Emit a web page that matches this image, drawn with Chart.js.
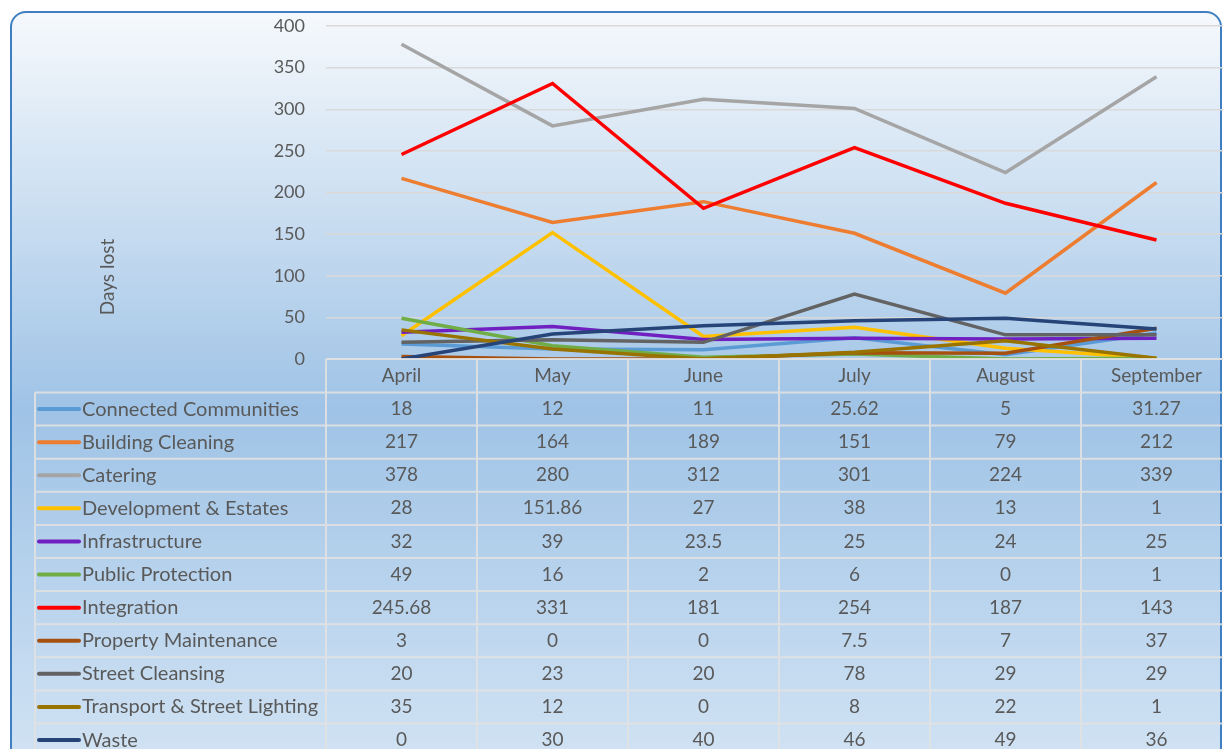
<!DOCTYPE html>
<html>
<head>
<meta charset="utf-8">
<script src="https://cdn.jsdelivr.net/npm/chart.js@4.4.1/dist/chart.umd.min.js"></script>
<style>
  html, body { margin: 0; padding: 0; background: #fff; overflow: hidden; }
  #wrap { position: absolute; left: 0; top: 0; width: 1240px; height: 775px; }
</style>
</head>
<body>
<div id="wrap"><canvas id="myChart" width="1240" height="775"></canvas></div>
<script>
// 월별 카테고리
const MONTHS = ["April", "May", "June", "July", "August", "September"];

// 부서별 손실 일수
const CONNECTED_COMMUNITIES = [18, 12, 11, 25.62, 5, 31.27];
const BUILDING_CLEANING = [217, 164, 189, 151, 79, 212];
const CATERING = [378, 280, 312, 301, 224, 339];
const DEVELOPMENT_ESTATES = [28, 151.86, 27, 38, 13, 1];
const INFRASTRUCTURE = [32, 39, 23.5, 25, 24, 25];
const PUBLIC_PROTECTION = [49, 16, 2, 6, 0, 1];
const INTEGRATION = [245.68, 331, 181, 254, 187, 143];
const PROPERTY_MAINTENANCE = [3, 0, 0, 7.5, 7, 37];
const STREET_CLEANSING = [20, 23, 20, 78, 29, 29];
const TRANSPORT_LIGHTING = [35, 12, 0, 8, 22, 1];
const WASTE = [0, 30, 40, 46, 49, 36];

// y축 눈금
const Y_TICKS = [0, 50, 100, 150, 200, 250, 300, 350, 400];

const FONT = "Lato, 'Open Sans', sans-serif";
const TEXT_COLOR = "#595959";

const series = [
  { label: "Connected Communities", data: CONNECTED_COMMUNITIES, color: "#5B9BD5" },
  { label: "Building Cleaning", data: BUILDING_CLEANING, color: "#ED7D31" },
  { label: "Catering", data: CATERING, color: "#A5A5A5" },
  { label: "Development & Estates", data: DEVELOPMENT_ESTATES, color: "#FFC000" },
  { label: "Infrastructure", data: INFRASTRUCTURE, color: "#7020C0" },
  { label: "Public Protection", data: PUBLIC_PROTECTION, color: "#70AD47" },
  { label: "Integration", data: INTEGRATION, color: "#FF0000" },
  { label: "Property Maintenance", data: PROPERTY_MAINTENANCE, color: "#A5500F" },
  { label: "Street Cleansing", data: STREET_CLEANSING, color: "#636363" },
  { label: "Transport & Street Lighting", data: TRANSPORT_LIGHTING, color: "#997300" },
  { label: "Waste", data: WASTE, color: "#264478" },
];

// 배경 프레임 (둥근 테두리 + 그라데이션)
const framePlugin = {
  id: "frame",
  beforeDraw(chart) {
    const { ctx } = chart;
    const x = 11, y = 12, w = 1210, h = 800, r = 15;
    ctx.save();
    ctx.fillStyle = "#ffffff";
    ctx.fillRect(0, 0, chart.width, chart.height);
    const g = ctx.createLinearGradient(0, y, 0, 775);
    g.addColorStop(0, "#f6f9fc");
    g.addColorStop(0.52, "#9fc3e6");
    g.addColorStop(1, "#d3e4f4");
    ctx.beginPath();
    ctx.roundRect(x, y, w, h, r);
    ctx.fillStyle = g;
    ctx.fill();
    ctx.lineWidth = 2;
    ctx.strokeStyle = "#3f7fc1";
    ctx.stroke();

    // 축 제목
    ctx.translate(108, 277);
    ctx.rotate(-Math.PI / 2);
    ctx.font = "19px " + FONT;
    ctx.fillStyle = TEXT_COLOR;
    ctx.textAlign = "center";
    ctx.textBaseline = "middle";
    ctx.fillText("Days lost", 0, 0);
    ctx.restore();
  },
};

// 데이터 표 그리기
const tablePlugin = {
  id: "dataTable",
  afterDraw(chart) {
    const { ctx, chartArea } = chart;
    const xs = chart.scales.x;
    const colW = (chartArea.right - chartArea.left) / MONTHS.length;
    const top = chartArea.bottom;
    const headH = 33.5;
    const rowH = 33.1;
    const legendLeft = 35;
    const bottom = top + headH + rowH * series.length;

    ctx.save();
    ctx.strokeStyle = "rgba(225, 225, 225, 0.9)";
    ctx.lineWidth = 2;

    // 가로선
    ctx.beginPath();
    ctx.moveTo(chartArea.left, top);
    ctx.lineTo(chartArea.right, top);
    for (let i = 0; i <= series.length; i++) {
      const yy = top + headH + rowH * i;
      ctx.moveTo(legendLeft, yy);
      ctx.lineTo(chartArea.right, yy);
    }
    // 세로선
    ctx.moveTo(legendLeft, top + headH);
    ctx.lineTo(legendLeft, bottom);
    for (let j = 0; j <= MONTHS.length; j++) {
      const xx = chartArea.left + colW * j;
      ctx.moveTo(xx, top);
      ctx.lineTo(xx, bottom);
    }
    ctx.stroke();

    ctx.fillStyle = TEXT_COLOR;
    ctx.textBaseline = "middle";
    ctx.textAlign = "center";
    ctx.font = "19px " + FONT;
    MONTHS.forEach((m, j) => {
      ctx.fillText(m, xs.getPixelForValue(j), top + headH / 2);
    });

    series.forEach((s, i) => {
      const cy = top + headH + rowH * i + rowH / 2;
      ctx.strokeStyle = s.color;
      ctx.lineWidth = 4;
      ctx.lineCap = "round";
      ctx.beginPath();
      ctx.moveTo(39, cy);
      ctx.lineTo(79, cy);
      ctx.stroke();
      ctx.textAlign = "left";
      ctx.font = "20px " + FONT;
      ctx.fillText(s.label, 82, cy);
      ctx.textAlign = "center";
      ctx.font = "19px " + FONT;
      s.data.forEach((v, j) => {
        ctx.fillText(String(v), xs.getPixelForValue(j), cy);
      });
    });
    ctx.restore();
  },
};

const ctx = document.getElementById("myChart").getContext("2d");

new Chart(ctx, {
  type: "line",
  data: {
    labels: MONTHS,
    datasets: series.map((s, i) => ({
      label: s.label,
      data: s.data,
      borderColor: s.color,
      backgroundColor: s.color,
      borderWidth: 3.5,
      pointRadius: 0,
      tension: 0,
      fill: false,
      order: series.length - i,
    })),
  },
  options: {
    responsive: false,
    animation: false,
    layout: {
      padding: { top: 26, right: 8, bottom: 416, left: 0 },
    },
    plugins: {
      legend: { display: false },
      tooltip: { enabled: false },
    },
    scales: {
      x: {
        display: false,
        offset: true,
      },
      y: {
        min: 0,
        max: 400,
        afterBuildTicks: (scale) => {
          scale.ticks = Y_TICKS.map((v) => ({ value: v }));
        },
        afterFit: (scale) => {
          scale.width = 326;
          scale.paddingTop = 0;
          scale.paddingBottom = 0;
        },
        border: { display: false },
        grid: {
          color: "#d9d9d9",
          lineWidth: 1.5,
          drawTicks: false,
        },
        ticks: {
          color: TEXT_COLOR,
          padding: 21,
          font: { size: 18, family: FONT },
        },
      },
    },
  },
  plugins: [framePlugin, tablePlugin],
});
</script>
</body>
</html>
